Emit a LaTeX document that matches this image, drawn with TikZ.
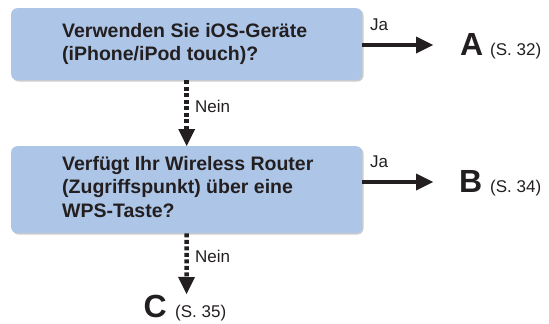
\documentclass[tikz,border=0pt]{standalone}
\usepackage{fontspec}
\setmainfont{Liberation Sans}
\usetikzlibrary{arrows.meta}
\definecolor{boxblue}{RGB}{173,197,231}
\definecolor{ink}{RGB}{35,31,32}
\begin{document}
\begin{tikzpicture}[x=1pt,y=-1pt,
  qbox/.style={fill=boxblue, rounded corners=6pt, inner sep=0pt, anchor=north west, minimum width=351pt},
  shadowbox/.style={fill=black!20, rounded corners=6pt},
  qtext/.style={anchor=base west, inner sep=0pt, align=left, font=\bfseries\fontsize{19.5}{23.5}\selectfont, text=ink},
  tipstyle/.style={-{Triangle[length=17pt,width=17pt,line width=0pt]}},
  yesarrow/.style={draw=ink, line width=4.5pt, tipstyle},
  noarrow/.style={draw=ink, line width=4.5pt, dash pattern=on 4pt off 2.5pt, tipstyle},
  lbl/.style={anchor=base west, inner sep=0pt, font=\fontsize{17}{20}\selectfont, text=ink},
  big/.style={anchor=base west, inner sep=0pt, font=\bfseries\fontsize{32}{36}\selectfont, text=ink},
]
\useasboundingbox (0,0) rectangle (549,324);
% shadows
\fill[shadowbox] (12.5,9.5) rectangle (363.5,81.5);
\fill[shadowbox] (12.5,147.5) rectangle (363.5,234.5);
% boxes
\node[qbox, minimum height=72pt] (q1) at (11,8) {};
\node[qbox, minimum height=87pt] (q2) at (11,146) {};
% texts (base anchor = baseline of the last line)
\node[qtext] (t1) at (62,60.5) {Verwenden Sie iOS-Geräte\\(iPhone/iPod touch)?};
\node[qtext] (t2) at (62,217) {Verfügt Ihr Wireless Router\\(Zugriffspunkt) über eine\\WPS-Taste?};
% targets
\node[big] (A) at (460,55) {A};
\node[lbl] (pA) at (490,55) {(S. 32)};
\node[big] (B) at (459,192) {B};
\node[lbl] (pB) at (490,192) {(S. 34)};
\node[big] (C) at (143.5,317.5) {C};
\node[lbl] (pC) at (175,317.5) {(S. 35)};
% arrow end points
\coordinate (a1) at (433,45);
\coordinate (a2) at (433,182);
\coordinate (c1) at (186.5,294);
% yes arrows
\draw[yesarrow] (q1.east |- a1) -- (a1);
\draw[yesarrow] (q2.east |- a2) -- (a2);
\node[lbl] (ja1) at (370,30) {Ja};
\node[lbl] (ja2) at (370,167) {Ja};
% no arrows
\draw[noarrow] (q1.south) -- (q2.north);
\draw[noarrow] (q2.south) -- (c1);
\node[lbl] (n1) at (195,112) {Nein};
\node[lbl] (n2) at (195,262) {Nein};
\end{tikzpicture}
\end{document}
